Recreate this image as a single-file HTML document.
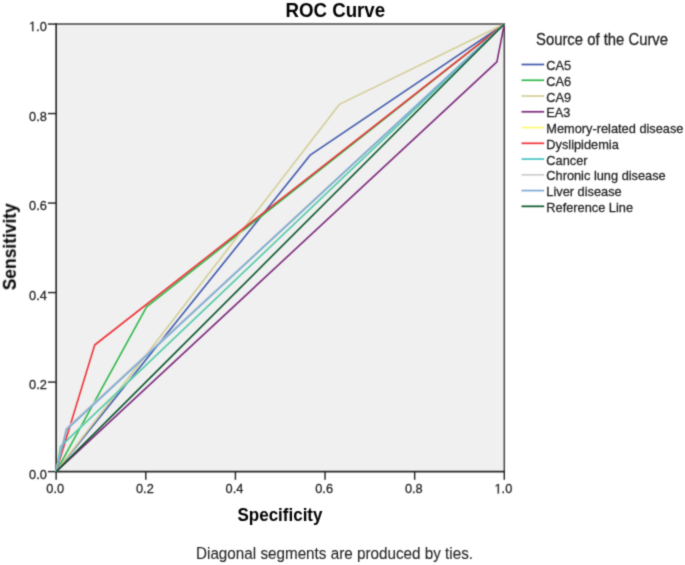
<!DOCTYPE html>
<html><head><meta charset="utf-8"><style>
html,body{margin:0;padding:0;background:#fff;width:685px;height:565px;overflow:hidden}
svg{display:block}
text{font-family:"Liberation Sans",sans-serif}
.tk{font-size:12.8px;fill:#222;stroke:#222;stroke-width:0.25px}
.ttl{font-size:18.7px;font-weight:bold;fill:#000}
.axl{font-size:17px;font-weight:bold;fill:#000}
.foot{font-size:15.25px;fill:#262626;stroke:#262626;stroke-width:0.1px}
.lgt{font-size:14.85px;fill:#222;stroke:#222;stroke-width:0.25px}
.lg{font-size:12.8px;fill:#222;stroke:#222;stroke-width:0.25px}
</style></head><body>
<svg width="685" height="565" viewBox="0 0 685 565">
<defs><filter id="bl" x="0" y="0" width="685" height="565" filterUnits="userSpaceOnUse" color-interpolation-filters="sRGB"><feConvolveMatrix order="3" kernelMatrix="1 4 1 4 16 4 1 4 1" edgeMode="duplicate"/></filter></defs>
<g filter="url(#bl)">
<rect x="0" y="0" width="685" height="565" fill="#fff"/>
<rect x="56.15" y="24.05" width="448.15000000000003" height="447.55" fill="#f0f0f0"/>
<path d="M56.15,24.05 H504.3 V471.6" stroke="#444444" stroke-width="1.5" fill="none" stroke-linecap="square"/>
<path d="M56.15,23.35 V471.6 H505.0" stroke="#262626" stroke-width="1.6" fill="none"/>
<line x1="56.15" y1="471.6" x2="56.15" y2="479.8" stroke="#262626" stroke-width="1.45"/>
<line x1="47.95" y1="471.60" x2="56.15" y2="471.60" stroke="#262626" stroke-width="1.45"/>
<text transform="translate(55.25,493.40) scale(1,1.06)" text-anchor="middle" class="tk">0.0</text>
<text transform="translate(46.80,478.70) scale(1,1.06)" text-anchor="end" class="tk">0.0</text>
<line x1="145.78" y1="471.6" x2="145.78" y2="479.8" stroke="#262626" stroke-width="1.45"/>
<line x1="47.95" y1="382.09" x2="56.15" y2="382.09" stroke="#262626" stroke-width="1.45"/>
<text transform="translate(144.88,493.40) scale(1,1.06)" text-anchor="middle" class="tk">0.2</text>
<text transform="translate(46.80,389.19) scale(1,1.06)" text-anchor="end" class="tk">0.2</text>
<line x1="235.41" y1="471.6" x2="235.41" y2="479.8" stroke="#262626" stroke-width="1.45"/>
<line x1="47.95" y1="292.58" x2="56.15" y2="292.58" stroke="#262626" stroke-width="1.45"/>
<text transform="translate(234.51,493.40) scale(1,1.06)" text-anchor="middle" class="tk">0.4</text>
<text transform="translate(46.80,299.68) scale(1,1.06)" text-anchor="end" class="tk">0.4</text>
<line x1="325.04" y1="471.6" x2="325.04" y2="479.8" stroke="#262626" stroke-width="1.45"/>
<line x1="47.95" y1="203.07" x2="56.15" y2="203.07" stroke="#262626" stroke-width="1.45"/>
<text transform="translate(324.14,493.40) scale(1,1.06)" text-anchor="middle" class="tk">0.6</text>
<text transform="translate(46.80,210.17) scale(1,1.06)" text-anchor="end" class="tk">0.6</text>
<line x1="414.67" y1="471.6" x2="414.67" y2="479.8" stroke="#262626" stroke-width="1.45"/>
<line x1="47.95" y1="113.56" x2="56.15" y2="113.56" stroke="#262626" stroke-width="1.45"/>
<text transform="translate(413.77,493.40) scale(1,1.06)" text-anchor="middle" class="tk">0.8</text>
<text transform="translate(46.80,120.66) scale(1,1.06)" text-anchor="end" class="tk">0.8</text>
<line x1="504.30" y1="471.6" x2="504.30" y2="479.8" stroke="#262626" stroke-width="1.45"/>
<line x1="47.95" y1="24.05" x2="56.15" y2="24.05" stroke="#262626" stroke-width="1.45"/>
<path d="M0.2525,0 L0.34,0 L0.34,-0.6875 L0.265,-0.6875 L0.2375,-0.675 L0.15,-0.615 L0.1075,-0.585 L0.095,-0.57 L0.095,-0.5 L0.1175,-0.51 L0.1825,-0.555 L0.245,-0.6 L0.2525,-0.605 Z" transform="translate(494.50,493.40) scale(12.8,13.568)" fill="#222" stroke="#222" stroke-width="0.0195"/><text transform="translate(501.62,493.40) scale(1,1.06)" class="tk">.0</text>
<path d="M0.2525,0 L0.34,0 L0.34,-0.6875 L0.265,-0.6875 L0.2375,-0.675 L0.15,-0.615 L0.1075,-0.585 L0.095,-0.57 L0.095,-0.5 L0.1175,-0.51 L0.1825,-0.555 L0.245,-0.6 L0.2525,-0.605 Z" transform="translate(29.01,31.15) scale(12.8,13.568)" fill="#222" stroke="#222" stroke-width="0.0195"/><text transform="translate(36.12,31.15) scale(1,1.06)" class="tk">.0</text>
<polyline points="56.15,471.60 310.50,154.80 504.30,24.05" fill="none" stroke="#3e58ac" stroke-width="1.6" stroke-linejoin="round"/>
<polyline points="56.15,471.60 146.60,306.80 504.30,24.05" fill="none" stroke="#2eb848" stroke-width="1.6" stroke-linejoin="round"/>
<polyline points="56.15,471.60 339.30,104.40 504.30,24.05" fill="none" stroke="#d3ce97" stroke-width="1.6" stroke-linejoin="round"/>
<polyline points="56.15,471.60 496.90,61.80 504.30,24.05" fill="none" stroke="#7c287d" stroke-width="1.6" stroke-linejoin="round"/>
<polyline points="56.15,471.60 60.50,446.20 504.30,24.05" fill="none" stroke="#fbf873" stroke-width="1.6" stroke-linejoin="round"/>
<polyline points="56.15,471.60 94.70,345.00 504.30,24.05" fill="none" stroke="#ef3338" stroke-width="1.6" stroke-linejoin="round"/>
<polyline points="56.15,471.60 60.60,446.40 504.30,24.05" fill="none" stroke="#50c8bc" stroke-width="1.6" stroke-linejoin="round"/>
<polyline points="56.15,471.60 66.10,428.60 504.30,24.05" fill="none" stroke="#cccccc" stroke-width="1.6" stroke-linejoin="round"/>
<polyline points="56.15,471.60 66.60,429.60 504.30,24.05" fill="none" stroke="#7aaad5" stroke-width="1.6" stroke-linejoin="round"/>
<polyline points="56.15,471.60 504.30,24.05" fill="none" stroke="#0a562c" stroke-width="1.6" stroke-linejoin="round"/>
<text transform="translate(335.30,17.30) scale(1,1.085)" text-anchor="middle" class="ttl">ROC Curve</text>
<text transform="translate(280.00,521.10) scale(1,1.075)" text-anchor="middle" class="axl">Specificity</text>
<text transform="translate(16.0,246.7) rotate(-90) scale(1,1.075)" text-anchor="middle" class="axl" style="font-size:17.4px">Sensitivity</text>
<text transform="translate(334.50,558.90) scale(1,1.06)" text-anchor="middle" class="foot">Diagonal segments are produced by ties.</text>
<text transform="translate(536.00,44.90) scale(1,1.05)" class="lgt">Source of the Curve</text>
<line x1="521.5" y1="64.50" x2="544.2" y2="64.50" stroke="#3e58ac" stroke-width="1.7"/>
<text transform="translate(546.30,70.10) scale(1,1.05)" class="lg">CA5</text>
<line x1="521.5" y1="80.26" x2="544.2" y2="80.26" stroke="#2eb848" stroke-width="1.7"/>
<text transform="translate(546.30,85.86) scale(1,1.05)" class="lg">CA6</text>
<line x1="521.5" y1="96.02" x2="544.2" y2="96.02" stroke="#d3ce97" stroke-width="1.7"/>
<text transform="translate(546.30,101.62) scale(1,1.05)" class="lg">CA9</text>
<line x1="521.5" y1="111.78" x2="544.2" y2="111.78" stroke="#7c287d" stroke-width="1.7"/>
<text transform="translate(546.30,117.38) scale(1,1.05)" class="lg">EA3</text>
<line x1="521.5" y1="127.54" x2="544.2" y2="127.54" stroke="#fbf873" stroke-width="1.7"/>
<text transform="translate(546.30,133.14) scale(1,1.05)" class="lg">Memory-related disease</text>
<line x1="521.5" y1="143.30" x2="544.2" y2="143.30" stroke="#ef3338" stroke-width="1.7"/>
<text transform="translate(546.30,148.90) scale(1,1.05)" class="lg">Dyslipidemia</text>
<line x1="521.5" y1="159.06" x2="544.2" y2="159.06" stroke="#48c2c5" stroke-width="1.7"/>
<text transform="translate(546.30,164.66) scale(1,1.05)" class="lg">Cancer</text>
<line x1="521.5" y1="174.82" x2="544.2" y2="174.82" stroke="#cccccc" stroke-width="1.7"/>
<text transform="translate(546.30,180.42) scale(1,1.05)" class="lg">Chronic lung disease</text>
<line x1="521.5" y1="190.58" x2="544.2" y2="190.58" stroke="#7aaad5" stroke-width="1.7"/>
<text transform="translate(546.30,196.18) scale(1,1.05)" class="lg">Liver disease</text>
<line x1="521.5" y1="206.34" x2="544.2" y2="206.34" stroke="#0a562c" stroke-width="1.7"/>
<text transform="translate(546.30,211.94) scale(1,1.05)" class="lg">Reference Line</text>
</g>
</svg>
</body></html>
